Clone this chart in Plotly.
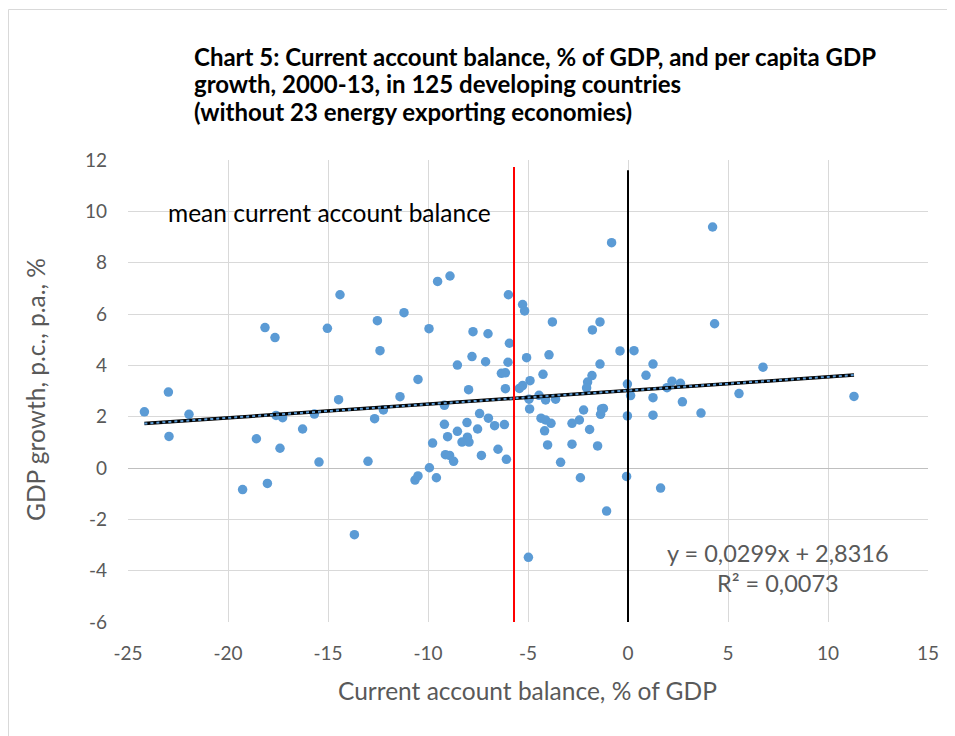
import plotly.graph_objects as go
import numpy as np

# Data: (current account balance % of GDP, per capita GDP growth % p.a.)
ca_balance = [
    -14.4, -18.15, -17.65, -15.03, -12.53, -11.2, -12.4, -10.5, -22.98, -24.18,
    -21.95, -22.95, -14.47, -11.4, -17.6, -17.27, -15.68, -12.67, -12.23, -16.27,
    -18.58, -17.4, -15.45, -13.0, -19.27, -18.03, -13.68, -10.65, -10.5,
    -0.82, -9.52, -8.9, -5.98, -5.27, -5.17, -9.95, -7.75, -7.0, -3.78,
    -1.78, -1.4, -5.93, -8.53, -7.8, -7.12, -6.0, -5.07, -3.95, -1.4,
    -0.4, 0.3, -6.33, -6.13, -4.9, -4.25, -1.8,
    -2.02, -2.07, -5.27, -5.43, -6.13, -7.97, -9.18, -4.45, -4.12, -3.62,
    -4.95, -4.92, -2.22, -1.32, -1.23, -1.37, -0.03, 0.13, -0.03, -0.07,
    -7.42, -6.98, -6.67, -6.18, -9.18, -8.05, -8.53, -7.52, -9.02, -8.03,
    -8.3, -7.95, -9.77, -9.13, -8.92, -8.72, -7.33, -6.5, -6.08, -9.93,
    -9.58, -4.35, -4.12, -3.85, -4.17, -4.02, -2.8, -2.43, -1.92, -2.8,
    -1.52, -3.37, -2.38, -1.07, -4.98,
    4.23, 4.33, 1.25, 6.75, 0.9, 2.2, 2.62, 1.95, 1.25, 2.72,
    5.55, 11.3, 3.65, 1.25, 1.63,
]
gdp_growth = [
    6.75, 5.47, 5.08, 5.44, 5.74, 6.05, 4.57, 3.45, 2.96, 2.19,
    2.09, 1.23, 2.66, 2.78, 2.05, 1.96, 2.10, 1.92, 2.26, 1.52,
    1.14, 0.77, 0.23, 0.26, -0.84, -0.60, -2.60, -0.47, -0.31,
    8.78, 7.27, 7.48, 6.75, 6.37, 6.12, 5.43, 5.31, 5.23, 5.69,
    5.38, 5.69, 4.86, 4.01, 4.34, 4.14, 4.12, 4.30, 4.41, 4.05,
    4.56, 4.57, 3.69, 3.71, 3.40, 3.65, 3.60,
    3.35, 3.12, 3.21, 3.10, 3.09, 3.05, 2.44, 2.83, 2.65, 2.68,
    2.68, 2.30, 2.26, 2.30, 2.32, 2.09, 3.27, 2.82, 2.03, -0.33,
    2.12, 1.94, 1.65, 1.69, 1.70, 1.77, 1.43, 1.52, 1.22, 1.20,
    1.01, 1.01, 0.97, 0.52, 0.49, 0.26, 0.49, 0.73, 0.34, 0.01,
    -0.38, 1.94, 1.87, 1.74, 1.45, 0.90, 1.74, 1.87, 1.50, 0.93,
    0.86, 0.22, -0.38, -1.68, -3.48,
    9.39, 5.62, 4.05, 3.93, 3.61, 3.38, 3.30, 3.13, 2.74, 2.58,
    2.90, 2.79, 2.14, 2.06, -0.78,
]

# Trend line as drawn in the chart (end points)
trend_x = [-24.18, 11.3]
trend_y = [1.73, 3.62]
mean_ca_balance = -5.7

x_ticks = [-25, -20, -15, -10, -5, 0, 5, 10, 15]
y_ticks = [-6, -4, -2, 0, 2, 4, 6, 8, 10, 12]

title_lines = ["Chart 5: Current account balance, % of GDP, and per capita GDP",
               "growth, 2000-13, in 125 developing countries",
               "(without 23 energy exporting economies)"]
x_title = "Current account balance, % of GDP"
y_title = "GDP growth, p.c., p.a., %"
mean_label = "mean current account balance"
eq_lines = ["y = 0,0299x + 2,8316", "R² = 0,0073"]

# Page geometry (pixels in the browser window); the page body adds an 8px offset
OFF = 8
W, H = 955 - OFF, 736 - OFF
L, R, T, B = 128 - OFF, 928 - OFF, 160 - OFF, 622 - OFF
FONT = "Lato, 'Open Sans', sans-serif"
GREY = "#595959"

def px_x(p):
    return (p - OFF - L) / (R - L)

def px_y(p):
    return (B - (p - OFF)) / (B - T)

fig = go.Figure()

fig.add_trace(go.Scatter(
    x=ca_balance, y=gdp_growth, mode="markers",
    marker=dict(color="#5B9BD5", size=9.5, line=dict(width=0)),
    showlegend=False, hoverinfo="x+y",
))

fig.add_trace(go.Scatter(x=trend_x, y=trend_y, mode="lines",
                         line=dict(color="black", width=3.5),
                         showlegend=False, hoverinfo="skip"))
fig.add_trace(go.Scatter(x=trend_x, y=trend_y, mode="lines",
                         line=dict(color="#5B9BD5", width=2, dash="dot"),
                         showlegend=False, hoverinfo="skip"))

# vertical lines: mean current account balance and zero
fig.add_shape(type="line", xref="x", yref="y", x0=mean_ca_balance, x1=mean_ca_balance,
              y0=-6, y1=11.73, line=dict(color="#FF0000", width=2))
fig.add_shape(type="line", xref="x", yref="y", x0=0, x1=0,
              y0=-6, y1=11.6, line=dict(color="black", width=2))

# chart area border
fig.add_shape(type="rect", xref="paper", yref="paper",
              x0=px_x(8.5), x1=px_x(948), y0=px_y(745), y1=px_y(9.5),
              line=dict(color="#d9d9d9", width=1), layer="below")

for line, yc in zip(title_lines, [56, 83.5, 111]):
    fig.add_annotation(text=line, xref="paper", yref="paper",
                       x=px_x(192), y=px_y(yc), xanchor="left", yanchor="middle",
                       align="left", showarrow=False,
                       font=dict(family=FONT, size=24, color="black", weight="bold"))
fig.add_annotation(text=mean_label, xref="paper", yref="paper",
                   x=px_x(166), y=px_y(213), xanchor="left", yanchor="middle",
                   showarrow=False, font=dict(family=FONT, size=24.5, color="black"))
for line, yc in zip(eq_lines, [553, 583]):
    fig.add_annotation(text=line, xref="paper", yref="paper",
                       x=px_x(778), y=px_y(yc), xanchor="center", yanchor="middle",
                       showarrow=False, font=dict(family=FONT, size=23.5, color=GREY))
fig.add_annotation(text=x_title, xref="paper", yref="paper",
                   x=px_x(527), y=px_y(690), xanchor="center", yanchor="middle",
                   showarrow=False, font=dict(family=FONT, size=24.5, color=GREY))
fig.add_annotation(text=y_title, xref="paper", yref="paper",
                   x=px_x(35), y=px_y(390), xanchor="center", yanchor="middle",
                   textangle=-90, showarrow=False,
                   font=dict(family=FONT, size=24.5, color=GREY))

fig.update_xaxes(range=[-25, 15], tickvals=x_ticks, ticktext=[str(v) for v in x_ticks],
                 showgrid=True, gridcolor="#d9d9d9", gridwidth=1, zeroline=False,
                 showline=False, ticks="", ticklabelstandoff=18,
                 tickfont=dict(family=FONT, size=19, color=GREY), fixedrange=True)
fig.update_yaxes(range=[-6, 12], tickvals=y_ticks, ticktext=[str(v) for v in y_ticks],
                 showgrid=True, gridcolor="#d9d9d9", gridwidth=1,
                 zeroline=True, zerolinecolor="#bfbfbf", zerolinewidth=1,
                 showline=False, ticks="", ticklabelstandoff=20,
                 tickfont=dict(family=FONT, size=19, color=GREY), fixedrange=True)

fig.update_layout(
    width=W, height=H, autosize=False,
    margin=dict(l=L, r=W - R, t=T, b=H - B, pad=0),
    paper_bgcolor="white", plot_bgcolor="white",
    font=dict(family=FONT),
)

fig.write_html("out.html")
